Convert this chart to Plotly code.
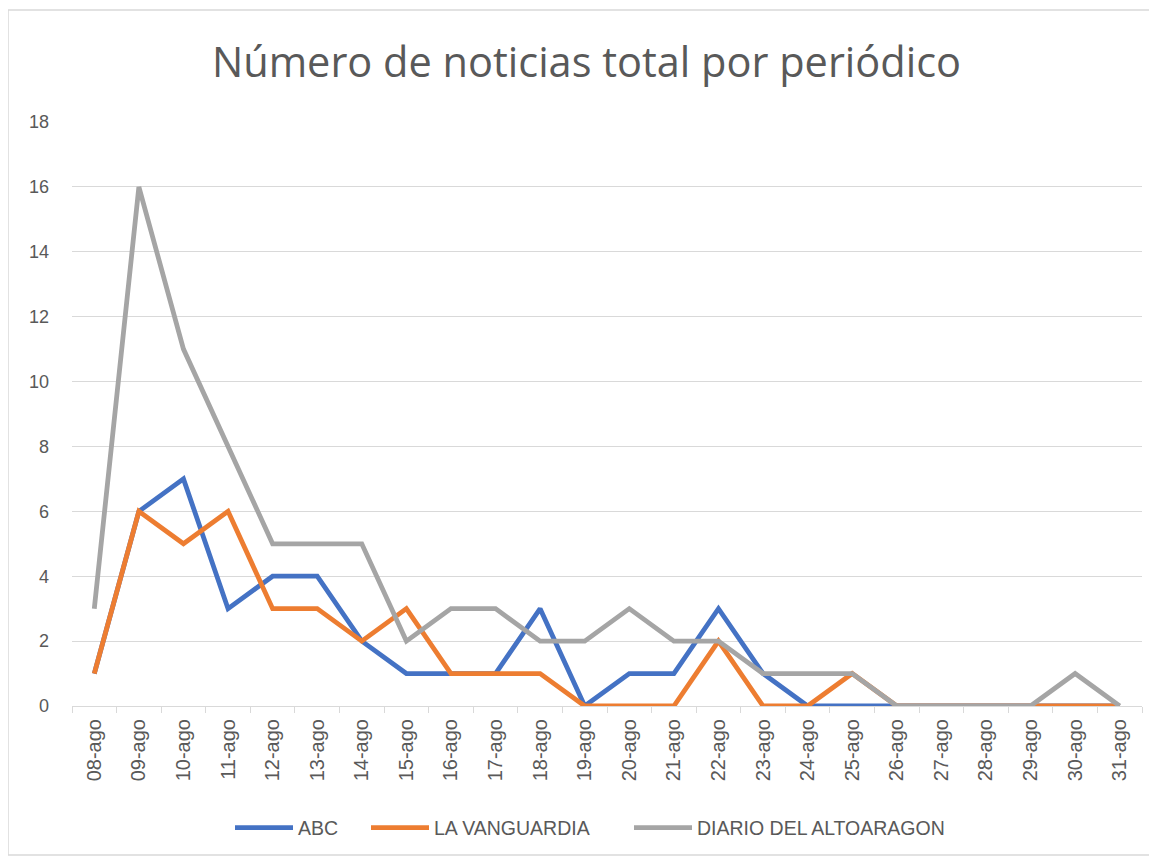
import plotly.graph_objects as go

days = ["08-ago", "09-ago", "10-ago", "11-ago", "12-ago", "13-ago", "14-ago", "15-ago",
        "16-ago", "17-ago", "18-ago", "19-ago", "20-ago", "21-ago", "22-ago", "23-ago",
        "24-ago", "25-ago", "26-ago", "27-ago", "28-ago", "29-ago", "30-ago", "31-ago"]
abc = [1, 6, 7, 3, 4, 4, 2, 1, 1, 1, 3, 0, 1, 1, 3, 1, 0, 0, 0, 0, 0, 0, 0, 0]
vanguardia = [1, 6, 5, 6, 3, 3, 2, 3, 1, 1, 1, 0, 0, 0, 2, 0, 0, 1, 0, 0, 0, 0, 0, 0]
altoaragon = [3, 16, 11, 8, 5, 5, 5, 2, 3, 3, 2, 2, 3, 2, 2, 1, 1, 1, 0, 0, 0, 0, 1, 0]
y_ticks = [0, 2, 4, 6, 8, 10, 12, 14, 16, 18]

TITLE_FONT = "Open Sans, Liberation Sans, sans-serif"
FONT = "Liberation Sans, Arial, sans-serif"
TXT = "#595959"

# plot area in figure pixels (page adds an 8px body margin)
L, T, W, H = 64, 114, 1070, 584
FIG_W, FIG_H = 1157, 860

def px_x(p):
    return (p - L) / W

def px_y(p):
    return (T + H - p) / H

fig = go.Figure()
series = [("ABC", abc, "#4472C4", "legend"),
          ("LA VANGUARDIA", vanguardia, "#ED7D31", "legend2"),
          ("DIARIO DEL ALTOARAGON", altoaragon, "#A5A5A5", "legend3")]
for name, vals, col, lg in series:
    fig.add_trace(go.Scatter(x=days, y=vals, mode="lines", name=name, legend=lg,
                             showlegend=True, line=dict(color=col, width=4.8)))

leg_common = dict(orientation="h", yanchor="middle", y=px_y(820), xanchor="left",
                  font=dict(family=FONT, size=19.5, color=TXT), itemwidth=58,
                  bgcolor="rgba(0,0,0,0)", visible=True)

fig.update_layout(
    width=FIG_W, height=FIG_H, showlegend=True,
    margin=dict(l=L, r=FIG_W - L - W, t=T, b=FIG_H - T - H),
    paper_bgcolor="white", plot_bgcolor="white",
    title=dict(text="Número de noticias total por periódico", x=0.5, xanchor="center",
               y=1 - 54 / FIG_H, yanchor="middle",
               font=dict(family=TITLE_FONT, size=41.5, color=TXT)),
    font=dict(family=FONT, size=17, color=TXT),
    legend=dict(x=px_x(222), **leg_common),
    legend2=dict(x=px_x(358), **leg_common),
    legend3=dict(x=px_x(621), **leg_common),
    xaxis=dict(type="category", tickangle=-90, showgrid=False, automargin=False,
               showline=True, linecolor="#D9D9D9", linewidth=1,
               ticks="outside", tickson="boundaries", ticklen=6, tickcolor="#D9D9D9",
               ticklabelstandoff=4,
               tickfont=dict(family=FONT, size=20, color=TXT), range=[-0.5, 23.5]),
    yaxis=dict(range=[0, 18], tickvals=y_ticks, showgrid=True, gridcolor="#D9D9D9",
               gridwidth=1, zeroline=False, showline=False, ticks="", automargin=False,
               ticklabelstandoff=22, tickfont=dict(family=FONT, size=18, color=TXT)),
    shapes=[dict(type="rect", xref="paper", yref="paper",
                 x0=px_x(0), x1=px_x(1142), y0=px_y(847), y1=px_y(2),
                 line=dict(color="#D9D9D9", width=1.5), layer="below")],
)

fig.write_html("out.html")
